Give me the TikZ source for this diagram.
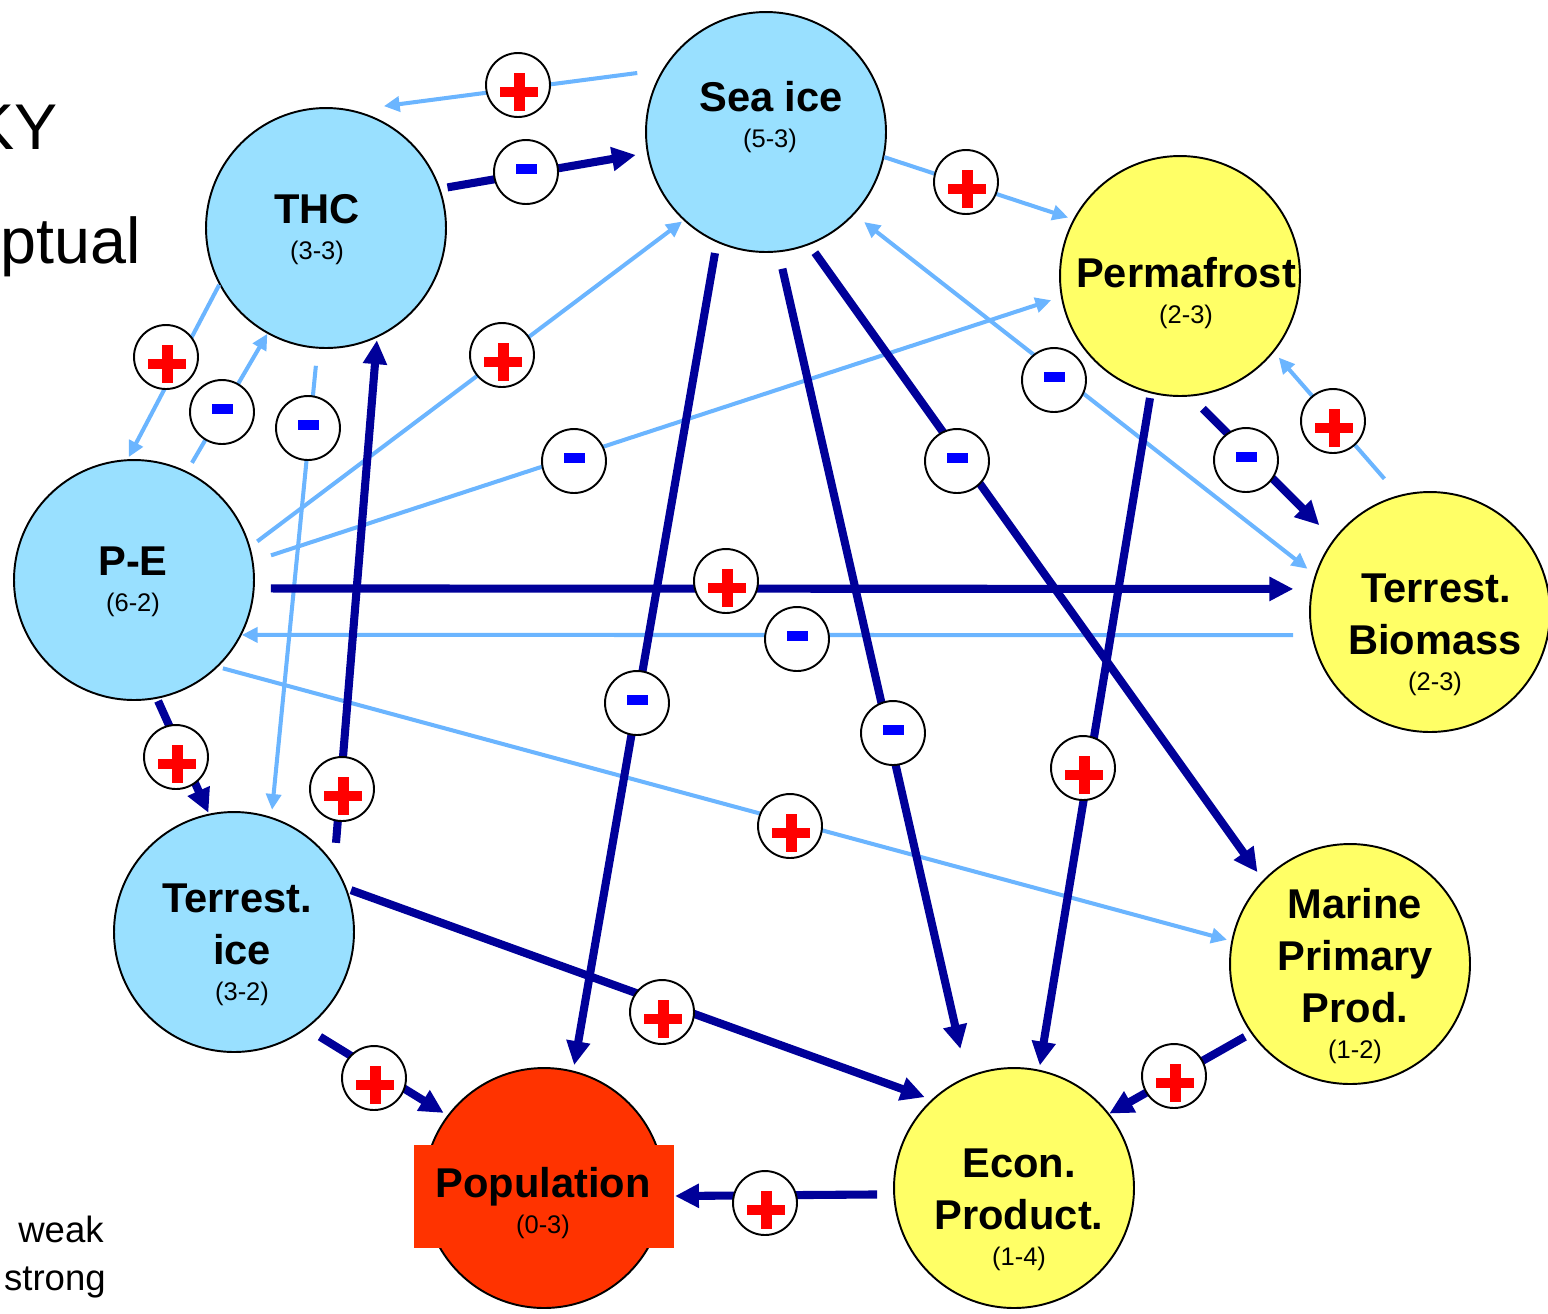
\documentclass[tikz,border=0pt]{standalone}
\usepackage{fontspec}
\setmainfont{Liberation Sans}
\usetikzlibrary{arrows.meta}
\definecolor{icefill}{RGB}{153,224,255}
\definecolor{yel}{RGB}{255,255,102}
\definecolor{popred}{RGB}{255,51,0}
\definecolor{darkline}{RGB}{0,0,153}
\definecolor{lightline}{RGB}{107,181,255}
\definecolor{plusred}{RGB}{255,0,0}
\definecolor{minusblue}{RGB}{0,0,255}
\begin{document}
\begin{tikzpicture}[x=0.02cm,y=-0.02cm,
 bignode/.style={circle, draw=black, line width=1.1pt, minimum size=4.8cm, inner sep=0pt},
 ice/.style={bignode, fill=icefill},
 land/.style={bignode, fill=yel},
 bigtext/.style={anchor=base, inner sep=0pt, font=\fontsize{23.7pt}{28pt}\selectfont\bfseries},
 smalltext/.style={anchor=base, inner sep=0pt, font=\fontsize{14.5pt}{17pt}\selectfont},
 sidetext/.style={anchor=base east, inner sep=0pt, font=\fontsize{36.8pt}{40pt}\selectfont},
 legtext/.style={anchor=base east, inner sep=0pt, font=\fontsize{20.8pt}{24pt}\selectfont},
 weak/.style={draw=lightline, line width=2.3pt, -{Triangle[length=9pt,width=8.5pt]}},
 weakboth/.style={draw=lightline, line width=2.3pt, {Triangle[length=9pt,width=8.5pt]}-{Triangle[length=9pt,width=8.5pt]}},
 strong/.style={draw=darkline, line width=4.6pt, -{Triangle[length=13.6pt,width=13pt]}},
 signc/.style={circle, draw=black, fill=white, line width=1.1pt, minimum size=1.28cm, inner sep=0pt},
 plus/.style={signc, path picture={
   \fill[plusred] (path picture bounding box.center) ++(-18,1.5) rectangle ++(38,10);
   \fill[plusred] (path picture bounding box.center) ++(-4.5,-12.5) rectangle ++(11,38);}},
 minus/.style={signc, path picture={
   \fill[minusblue] (path picture bounding box.center) ++(-10.5,-8) rectangle ++(21,10);}}
]
\useasboundingbox (0,0) rectangle (1548,1313);
\clip (0,0) rectangle (1548,1313);

% side texts
\node[sidetext] (ky) at (58,149) {KY};
\node[sidetext] (ptual) at (141,263) {ptual};
\node[legtext] (weaklbl) at (104,1242) {weak};
\node[legtext] (stronglbl) at (106,1290) {strong};

% main nodes
\node[ice] (sea) at (766,132) {};
\node[ice] (thc) at (326,228) {};
\node[land] (perm) at (1180,276) {};
\node[ice] (pe) at (134,580) {};
\node[land] (tb) at (1430,612) {};
\node[ice] (ti) at (234,932) {};
\node[land] (mpp) at (1350,964) {};
\node[land] (econ) at (1014,1188) {};
\node[bignode, fill=popred] (pop) at (544,1188) {};
\node[fill=popred, minimum width=5.2cm, minimum height=2.06cm, inner sep=0pt, outer sep=0pt] (poprect) at (544,1196) {};

% weak connectors
\draw[weak, shorten <=14.4pt, shorten >=17.6pt] (sea.149.9) -- (thc.77.4);
\draw[weak, shorten >=3pt] (sea.-12) -- (perm.152);
\draw[weak, shorten >=1.4pt] (thc.208.3) -- (pe.93.4);
\draw[weak, shorten <=5.6pt] (pe.64.8) -- (thc.241.1);
\draw[weak, shorten <=9.8pt, shorten >=4.1pt] (thc.266.6) -- (ti.72.9);
\draw[weak, shorten <=5pt, shorten >=1pt] (pe.16.8) -- (sea.227.8);
\draw[weak, shorten <=10.5pt, shorten >=5.8pt] (pe.9.3) -- (perm.190);
\draw[weakboth, shorten <=7pt, shorten >=5.4pt] (sea.-43.4) -- (tb.162.5);
\draw[weak, shorten <=12.4pt, shorten >=4.1pt] (tb.105.9) -- (perm.-39);
\draw[weak, shorten <=10.4pt] (tb.191.5) -- (pe.-27.8);
\draw[weak, shorten <=2.9pt, shorten >=2.5pt] (pe.-46.2) -- (mpp.169);

% strong connectors
\draw[strong, shorten <=4.1pt, shorten >=6.4pt] (thc.19.9) -- (sea.190.7);
\draw[strong, shorten <=6.1pt, shorten >=3.2pt] (sea.246.9) -- (pop.76);
\draw[strong, shorten <=9.6pt, shorten >=16.2pt] (sea.-84.2) -- (econ.113.4);
\draw[strong, shorten <=5.4pt, shorten >=5.4pt] (sea.-69.3) -- (mpp.136.1);
\draw[strong, shorten <=9.9pt, shorten >=11.3pt] (perm.-85.3) -- (tb.143.9);
\draw[strong, shorten <=2.7pt, shorten >=2.4pt] (perm.256.1) -- (econ.78.8);
\draw[strong, shorten <=9.3pt, shorten >=10.2pt] (pe.-4.8) -- (tb.169.4);
\draw[strong, shorten <=1.4pt, shorten >=0.6pt] (pe.-79) -- (ti.102.8);
\draw[strong, shorten <=12.3pt, shorten >=1.5pt] (ti.34.2) -- (thc.-65.8);
\draw[strong, shorten <=2.5pt, shorten >=4.1pt] (ti.21.2) -- (econ.133.2);
\draw[strong, shorten <=8.8pt, shorten >=2.5pt] (ti.-53.8) -- (pop.143.3);
\draw[strong, shorten <=4pt] (mpp.215.4) -- (econ.38.7);
\draw[strong, shorten <=9.2pt, shorten >=0.6pt] (econ.183.3) -- (poprect.east);

% signs
\node[plus] (s1) at (518,85) {};
\node[minus] (s2) at (526,172) {};
\node[plus] (s3) at (966,182) {};
\node[plus] (s4) at (166,357) {};
\node[minus] (s5) at (222,412) {};
\node[minus] (s6) at (308,428) {};
\node[plus] (s7) at (502,355) {};
\node[minus] (s8) at (574,461) {};
\node[minus] (s9) at (1054,380) {};
\node[plus] (s10) at (1333,421) {};
\node[minus] (s11) at (797,639) {};
\node[plus] (s12) at (790,826) {};
\node[minus] (s14) at (637,703) {};
\node[minus] (s15) at (893,733) {};
\node[minus] (s16) at (957,461) {};
\node[minus] (s17) at (1246,460) {};
\node[plus] (s18) at (1083,768) {};
\node[plus] (s19) at (726,581) {};
\node[plus] (s20) at (176,757) {};
\node[plus] (s21) at (342,789) {};
\node[plus] (s22) at (662,1012) {};
\node[plus] (s23) at (374,1078) {};
\node[plus] (s24) at (1174,1076) {};
\node[plus] (s25) at (765,1203) {};

% labels
\node[bigtext] (seaA) at (771,111) {Sea ice};
\node[smalltext] (seaB) at (770,147) {(5-3)};
\node[bigtext] (thcA) at (317,223) {THC};
\node[smalltext] (thcB) at (317,259) {(3-3)};
\node[bigtext] (permA) at (1186,287) {Permafrost};
\node[smalltext] (permB) at (1186,323) {(2-3)};
\node[bigtext] (peA) at (133,575) {P-E};
\node[smalltext] (peB) at (133,611) {(6-2)};
\node[bigtext] (tbA) at (1436,602) {Terrest.};
\node[bigtext] (tbB) at (1435,654) {Biomass};
\node[smalltext] (tbC) at (1435,690) {(2-3)};
\node[bigtext] (tiA) at (237,912) {Terrest.};
\node[bigtext] (tiB) at (242,964) {ice};
\node[smalltext] (tiC) at (242,1000) {(3-2)};
\node[bigtext] (mppA) at (1355,918) {Marine};
\node[bigtext] (mppB) at (1355,970) {Primary};
\node[bigtext] (mppC) at (1355,1022) {Prod.};
\node[smalltext] (mppD) at (1355,1058) {(1-2)};
\node[bigtext] (econA) at (1019,1177) {Econ.};
\node[bigtext] (econB) at (1019,1229) {Product.};
\node[smalltext] (econC) at (1019,1265) {(1-4)};
\node[bigtext] (popA) at (543,1197) {Population};
\node[smalltext] (popB) at (543,1233) {(0-3)};
\end{tikzpicture}
\end{document}
